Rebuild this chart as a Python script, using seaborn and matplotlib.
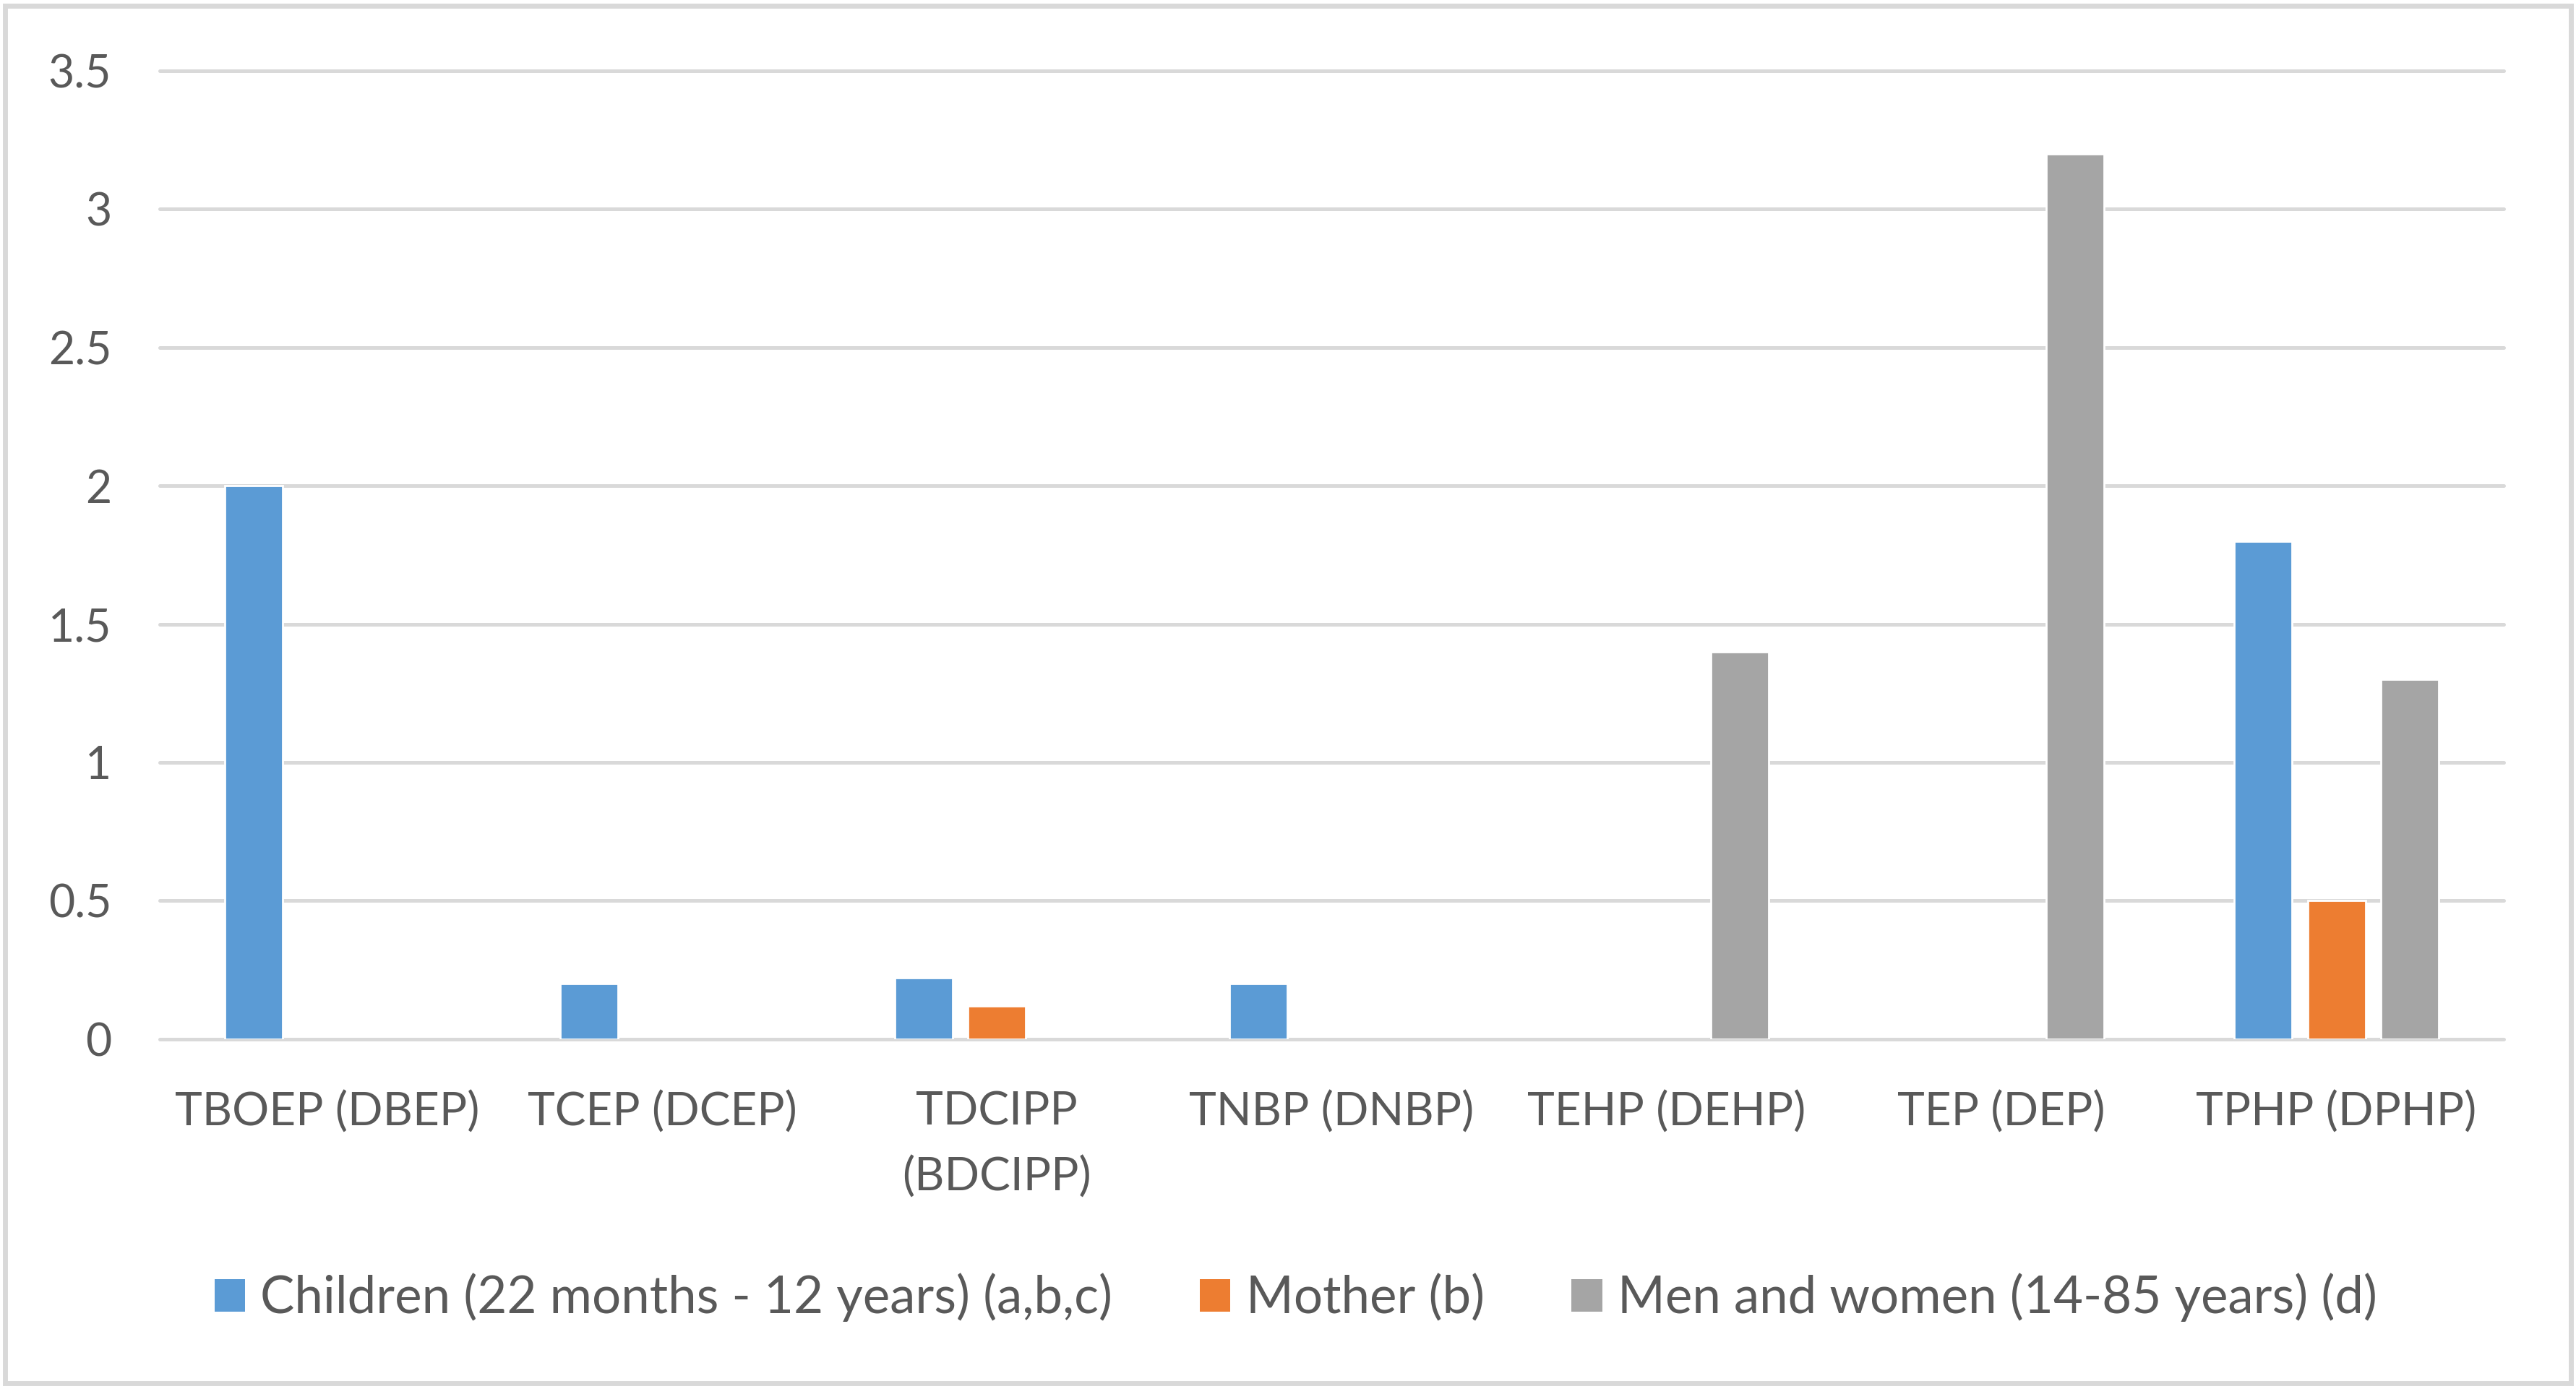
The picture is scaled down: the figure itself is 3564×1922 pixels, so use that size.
import numpy as np
import pandas as pd
import matplotlib
matplotlib.use("Agg")
import matplotlib.pyplot as plt
import seaborn as sns
from matplotlib.patches import Rectangle, Patch

categories = ["TBOEP (DBEP)", "TCEP (DCEP)", "TDCIPP\n(BDCIPP)", "TNBP (DNBP)",
              "TEHP (DEHP)", "TEP (DEP)", "TPHP (DPHP)"]
series_names = ["Children (22 months - 12 years) (a,b,c)", "Mother (b)",
                "Men and women (14-85 years) (d)"]
children = [2.0, 0.2, 0.22, 0.2, np.nan, np.nan, 1.8]
mother = [np.nan, np.nan, 0.12, np.nan, np.nan, np.nan, 0.5]
adults = [np.nan, np.nan, np.nan, np.nan, 1.4, 3.2, 1.3]
y_ticks = [0, 0.5, 1, 1.5, 2, 2.5, 3, 3.5]
y_tick_labels = ["0", "0.5", "1", "1.5", "2", "2.5", "3", "3.5"]
colors = ["#5B9BD5", "#ED7D31", "#A5A5A5"]

rows = []
for name, vals in zip(series_names, [children, mother, adults]):
    for c, v in zip(categories, vals):
        rows.append({"category": c, "series": name, "value": v})
df = pd.DataFrame(rows).dropna()

sns.set_theme(style="white")
plt.rcParams['font.family'] = ['Lato', 'DejaVu Sans']
text_color = "#595959"
grid_color = "#D9D9D9"

fig = plt.figure(figsize=(17.82, 9.61), dpi=200)
ax = fig.add_axes([0.062, 0.252, 0.910, 0.697])

sns.barplot(data=df, x="category", y="value", hue="series", order=categories,
            hue_order=series_names, palette=colors, width=0.656, gap=0.21,
            saturation=1, ax=ax, legend=False, errorbar=None, zorder=3)

ax.set_ylim(0, 3.5)
ax.set_xlim(-0.5, len(categories) - 0.5)
ax.set_yticks(y_ticks)
ax.set_yticklabels(y_tick_labels)
for y in y_ticks:
    ax.axhline(y, color=grid_color, lw=1.8, zorder=1, clip_on=False)
for s in ax.spines.values():
    s.set_visible(False)
ax.set_xlabel("")
ax.set_ylabel("")
ax.tick_params(axis="y", length=0, pad=24, labelsize=22.5, labelcolor=text_color)
ax.tick_params(axis="x", length=0, pad=26, labelsize=23, labelcolor=text_color)
for lab in ax.get_xticklabels():
    lab.set_linespacing(1.65)

handles = [Patch(facecolor=c, edgecolor="none") for c in colors]
fig.legend(handles, series_names, loc="center", bbox_to_anchor=(0.503, 0.066),
           ncol=3, frameon=False, fontsize=25.5, labelcolor=text_color,
           handlelength=0.6, handleheight=0.6, handletextpad=0.3,
           columnspacing=1.7)

fig.patches.append(Rectangle((0.002, 0.004), 0.996, 0.992, transform=fig.transFigure,
                             fill=False, edgecolor=grid_color, lw=2.5))

fig.savefig("out.png", dpi=200, facecolor="white")
